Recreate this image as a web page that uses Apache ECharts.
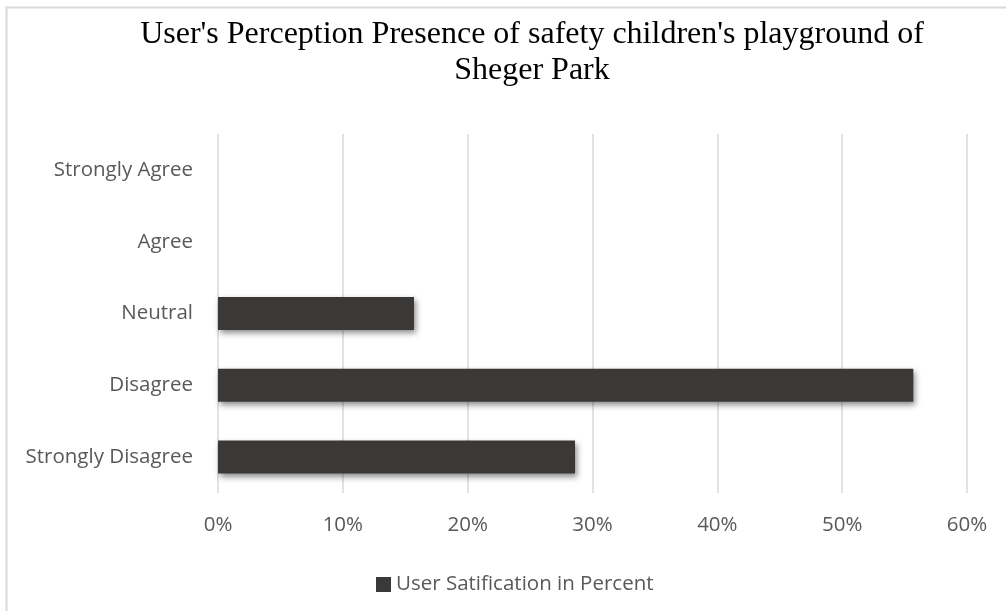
<!DOCTYPE html>
<html>
<head>
<meta charset="utf-8">
<script src="https://cdn.jsdelivr.net/npm/echarts@6/dist/echarts.min.js"></script>
<style>html,body{margin:0;padding:0;background:#fff}#c{width:1006px;height:611px}</style>
</head>
<body>
<div id="c"></div>
<script>
const titleText = "User's Perception Presence of safety children's playground of\nSheger Park";
const categories = ["Strongly Disagree", "Disagree", "Neutral", "Agree", "Strongly Agree"];
const values = [28.6, 55.7, 15.7, null, null];
const seriesName = "User Satification in Percent";
const xTicks = [0, 10, 20, 30, 40, 50, 60];

const chart = echarts.init(document.getElementById('c'), null, {renderer: 'canvas'});
chart.setOption({
  backgroundColor: '#fff',
  animation: false,
  graphic: [{
    type: 'rect', shape: {x: 6.5, y: 7.5, width: 1200, height: 800},
    style: {fill: 'none', stroke: '#d9d9d9', lineWidth: 2}, silent: true, z: -1
  }],
  title: {
    text: titleText,
    left: 527, top: 12, textAlign: 'center',
    textStyle: {fontFamily: 'Liberation Serif', fontSize: 32, fontWeight: 'normal', color: '#000', lineHeight: 36}
  },
  legend: {
    data: [seriesName], left: 371, top: 569, icon: 'rect', itemWidth: 15, itemHeight: 15, itemGap: 6,
    textStyle: {fontFamily: 'Open Sans', fontSize: 20.5, color: '#595959', padding: [0,0,0,0]}
  },
  grid: {left: 218, right: 39, top: 134, bottom: 118, containLabel: false},
  xAxis: {
    type: 'value', min: 0, max: 60, interval: 10,
    axisLine: {show: false}, axisTick: {show: false},
    splitLine: {show: true, lineStyle: {color: '#d9d9d9', width: 1.5}},
    axisLabel: {formatter: v => xTicks.includes(v) ? v + '%' : '', margin: 22, fontFamily: 'Open Sans', fontSize: 20.5, color: '#595959'}
  },
  yAxis: {
    type: 'category', data: categories,
    axisLine: {show: false}, axisTick: {show: false},
    axisLabel: {margin: 25, fontFamily: 'Open Sans', fontSize: 20.5, color: '#595959'}
  },
  series: [{
    name: seriesName, type: 'bar', data: values, barWidth: 33,
    itemStyle: {color: '#3b3938', shadowColor: 'rgba(0,0,0,0.45)', shadowBlur: 6, shadowOffsetX: 2, shadowOffsetY: 3}
  }]
});
</script>
</body>
</html>
